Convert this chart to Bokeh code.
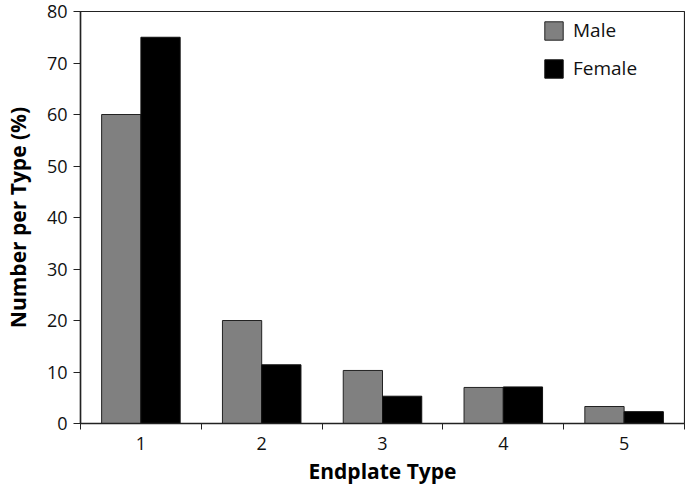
from bokeh.plotting import figure
from bokeh.models import ColumnDataSource, FixedTicker, Legend, LegendItem, Range1d
from bokeh.transform import dodge
from bokeh.embed import file_html
from bokeh.resources import INLINE

types = [1, 2, 3, 4, 5]
type_labels = ["1", "2", "3", "4", "5"]
male = [60, 20, 10.3, 7.0, 3.3]
female = [75, 11.4, 5.3, 7.1, 2.3]
y_ticks = [0, 10, 20, 30, 40, 50, 60, 70, 80]

src = ColumnDataSource(dict(x=types, male=male, female=female))

FONT = "Open Sans"
p = figure(width=685, height=487, output_backend="svg", toolbar_location=None,
           x_range=Range1d(0.5, 5.5), y_range=Range1d(0, 80),
           min_border_left=70, min_border_right=1, min_border_top=11, min_border_bottom=60)

bw = 0.325
r1 = p.vbar(x=dodge("x", -bw / 2, range=p.x_range), top="male", width=bw, source=src,
            fill_color="#808080", line_color="#222222", line_width=1)
r2 = p.vbar(x=dodge("x", bw / 2, range=p.x_range), top="female", width=bw, source=src,
            fill_color="#000000", line_color="#111111", line_width=1)

p.xgrid.visible = False
p.ygrid.visible = False
p.outline_line_color = "#222222"
p.outline_line_width = 1.2

p.xaxis.ticker = FixedTicker(ticks=types, minor_ticks=[0.5, 1.5, 2.5, 3.5, 4.5, 5.5])
p.xaxis.major_label_overrides = {t: l for t, l in zip(types, type_labels)}
p.xaxis.major_tick_out = 0
p.xaxis.major_tick_in = 0
p.xaxis.minor_tick_out = 6
p.xaxis.minor_tick_in = 0
p.xaxis.major_label_standoff = 7
p.xaxis.axis_label = "Endplate Type"
p.xaxis.axis_label_standoff = 4

p.yaxis.ticker = FixedTicker(ticks=y_ticks, minor_ticks=[])
p.yaxis.major_tick_out = 7
p.yaxis.major_tick_in = 0
p.yaxis.major_label_standoff = 6
p.yaxis.axis_label = "Number per Type (%)"
p.yaxis.axis_label_standoff = 12

for ax in (p.xaxis, p.yaxis):
    ax.axis_line_color = "#222222"
    ax.axis_line_width = 1.5
    ax.major_tick_line_color = "#222222"
    ax.minor_tick_line_color = "#222222"
    ax.major_label_text_font = FONT
    ax.major_label_text_font_size = "18px"
    ax.major_label_text_color = "#111111"
    ax.axis_label_text_font = FONT
    ax.axis_label_text_font_size = "21px"
    ax.axis_label_text_font_style = "bold"
    ax.axis_label_text_color = "#000000"

legend = Legend(items=[LegendItem(label="Male", renderers=[r1]),
                       LegendItem(label="Female", renderers=[r2])],
                location=(462, 342))
legend.border_line_color = None
legend.background_fill_alpha = 0
legend.glyph_width = 23
legend.glyph_height = 23
legend.label_height = 23
legend.spacing = 12
legend.padding = 2
legend.label_standoff = 8
legend.label_text_font = FONT
legend.label_text_font_size = "19px"
legend.label_text_color = "#111111"
p.add_layout(legend)

open("out.html", "w").write(file_html(p, INLINE))
